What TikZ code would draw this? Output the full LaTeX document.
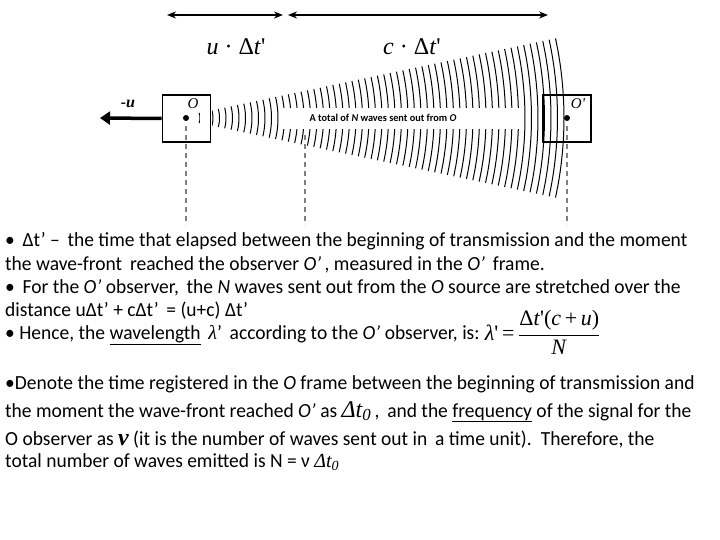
\documentclass[tikz,border=0pt]{standalone}
\usepackage{fontspec}
\setmainfont[FakeStretch=0.975]{Carlito}
\newfontfamily\tnr{Liberation Serif}
\usetikzlibrary{arrows.meta}
\begin{document}
\begin{tikzpicture}[x=1pt,y=-1pt,
  txt/.style={anchor=base west,inner sep=0pt,font=\fontsize{20}{24}\selectfont},
  bx/.style={draw,line width=1.6pt,minimum width=48pt,minimum height=47pt,inner sep=0pt},
  dsh/.style={draw=gray,line width=1.4pt,dash pattern=on 5pt off 4pt},
  dim/.style={line width=1.6pt,{Stealth[length=9pt,width=7pt]}-{Stealth[length=9pt,width=7pt]}},
  wave/.style={line width=1pt}]
\useasboundingbox (0,0) rectangle (720,540);
% waves
\foreach \r in {14,20.5,...,382}{
  \pgfmathsetmacro{\a}{asin(min(0.9,(5+0.205*(\r-14))/\r))}
  \draw[wave] plot[domain=-\a:\a,samples=12,smooth] ({186+\r*cos(\x)},{118+\r*sin(\x)});
}
\fill[white] (200,95) rectangle (212,142);
\fill[white] (280,108) rectangle (522,129);
\node[bx] (O) at (186.5,118.5) {};
\node[bx] (Op) at (567,118.5) {};
\node[inner sep=1.5pt,font=\fontsize{10.5}{12}\selectfont\bfseries] (lab) at (383,118) {A total of \textit{N} waves sent out from \textit{O}};
\fill (186,118) circle (3pt);
\fill (567,118) circle (3pt);
\node[font=\tnr\itshape\fontsize{15}{15}\selectfont] (o1) at (193,104) {O};
\node[font=\tnr\itshape\fontsize{15}{15}\selectfont] (o2) at (578,104) {O'};
\coordinate (ua) at (100,118);
\draw[line width=3.5pt,-{Triangle[length=10pt,width=13pt]}] (O.west) -- (ua);
\node[font=\tnr\itshape\bfseries\fontsize{16}{16}\selectfont] (mu) at (128,104) {-u};
% dashed lines
\coordinate (d1a) at (186,126); \coordinate (d1b) at (186,225);
\coordinate (d2a) at (305,135); \coordinate (d2b) at (305,225);
\coordinate (d3a) at (567,126); \coordinate (d3b) at (567,225);
\draw[dsh] (d1a)--(d1b); \draw[dsh] (d2a)--(d2b); \draw[dsh] (d3a)--(d3b);
% dimension arrows
\coordinate (a1) at (167,15); \coordinate (a2) at (283,15);
\coordinate (a3) at (288,15); \coordinate (a4) at (548,15);
\draw[dim] (a1)--(a2); \draw[dim] (a3)--(a4);
\node[font=\tnr\fontsize{24}{24}\selectfont] (l1) at (236,47) {\textit{u} · Δ\textit{t}'};
\node[font=\tnr\fontsize{24}{24}\selectfont] (l2) at (412,47) {\textit{c} · Δ\textit{t}'};
% text
\node[txt] (t1) at (5,247) {•\, Δt’ –\, the time that elapsed between the beginning of transmission and the moment};
\node[txt] (t2) at (5,270) {the wave-front\, reached the observer \textit{O’}\,, measured in the \textit{O’}\, frame.};
\node[txt] (t3) at (5,293) {•\, For the \textit{O’} observer,\, the \textit{N} waves sent out from the \textit{O} source are stretched over the};
\node[txt] (t4) at (5,316) {distance uΔt’ + cΔt’\, = (u+c) Δt’};
\node[txt] (t5) at (5,339) {• Hence, the \underline{wavelength}\, {\tnr\itshape λ}’\, according to the \textit{O’} observer, is:};
\node[anchor=base west,inner sep=0pt,font=\tnr\fontsize{22}{22}\selectfont] (f) at ([xshift=5pt,yshift=-1pt]t5.base east) {\textit{λ}'\,=\,$\displaystyle\frac{\hbox{Δ\textit{t}'(\textit{c}\,+\,\textit{u})}}{\hbox{\textit{N}}}$};
\node[txt] (t6) at (5,389) {•Denote the time registered in the \textit{O} frame between the beginning of transmission and};
\node[txt] (t7) at (5,417) {the moment the wave-front reached \textit{O’} as {\tnr\itshape\fontsize{24}{24}\selectfont Δt\textsubscript{0}}\,,\, and the \underline{frequency} of the signal for the};
\node[txt] (t8) at (5,445) {O observer as {\tnr\itshape\bfseries\fontsize{24}{24}\selectfont ν} (it is the number of waves sent out in\, a time unit).\, Therefore, the};
\node[txt] (t9) at (5,467) {total number of waves emitted is N = ν {\tnr\itshape Δt\textsubscript{0}}};
\end{tikzpicture}
\end{document}
